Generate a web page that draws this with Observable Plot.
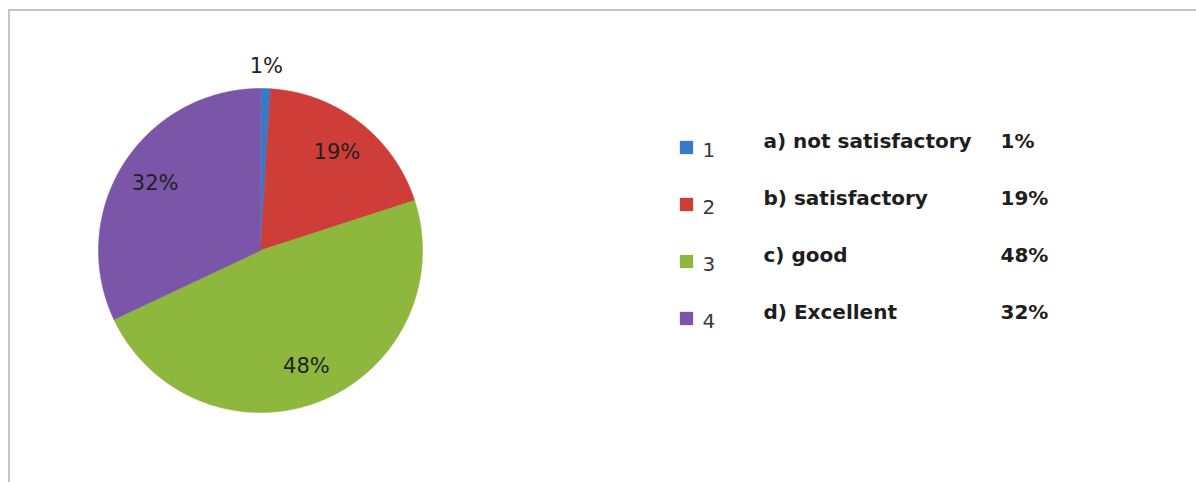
<!DOCTYPE html>
<html>
<head>
<meta charset="utf-8">
<script src="https://cdn.jsdelivr.net/npm/d3@7"></script>
<script src="https://cdn.jsdelivr.net/npm/@observablehq/plot@0.6"></script>
<style>
  html, body { margin: 0; padding: 0; background: #fff; }
  #wrap { position: relative; width: 1196px; height: 482px; overflow: hidden; background: #fff; }
  #frame { position: absolute; left: 8px; top: 9px; width: 1200px; height: 500px;
           border-top: 2px solid #c4c4c4; border-left: 2px solid #c4c4c4; }
  #wrap svg { position: absolute; left: 0; top: 0; }
</style>
</head>
<body>
<div id="wrap"><div id="frame"></div></div>
<script>
// ---- data ----
const keys = ["1", "2", "3", "4"];
const categories = ["a) not satisfactory", "b) satisfactory", "c) good", "d) Excellent"];
const values = [1, 19, 48, 32];
const pctLabels = ["1%", "19%", "48%", "32%"];
const colors = ["#3B79C5", "#CF3D38", "#8DB73D", "#7B55A7"];

// ---- pie geometry (unit circle, via d3.pie) ----
const arcs = d3.pie().sort(null).value(d => d)(values);
const slicePts = [];
arcs.forEach((a, i) => {
  slicePts.push({k: keys[i], x: 0, y: 0});
  const n = Math.max(2, Math.ceil((a.endAngle - a.startAngle) / 0.005));
  for (let j = 0; j <= n; j++) {
    const t = a.startAngle + (a.endAngle - a.startAngle) * j / n;
    slicePts.push({k: keys[i], x: Math.sin(t), y: Math.cos(t)});
  }
});
const labelData = arcs.map((a, i) => {
  const m = (a.startAngle + a.endAngle) / 2;
  const r = values[i] < 5 ? 1.14 : 0.77;
  return {x: r * Math.sin(m), y: r * Math.cos(m), text: pctLabels[i]};
});

const color = {domain: keys, range: colors};

const pie = Plot.plot({
  width: 1196, height: 482,
  marginLeft: 98, marginRight: 774, marginTop: 88, marginBottom: 70,
  x: {domain: [-1, 1], axis: null},
  y: {domain: [-1, 1], axis: null},
  color,
  style: {background: "transparent", overflow: "visible"},
  marks: [
    Plot.line(slicePts, {x: "x", y: "y", z: "k", fill: "k", stroke: "k", strokeWidth: 0.6, curve: "linear-closed"}),
    Plot.text(labelData, {x: "x", y: "y", text: "text", fontSize: 21,
      fontFamily: "DejaVu Sans", fill: "#222"})
  ]
});

const idx = d3.range(keys.length);
const legend = Plot.plot({
  width: 1196, height: 482,
  margin: 0,
  y: {type: "point", domain: keys, range: [146, 318], padding: 0, axis: null},
  color,
  style: {background: "transparent", overflow: "visible"},
  marks: [
    Plot.dot(keys, {y: d => d, fill: d => d, symbol: "square", r: 7.5,
      frameAnchor: "left", dx: 686}),
    Plot.text(keys, {y: d => d, text: d => d, frameAnchor: "left", dx: 702, dy: 3,
      textAnchor: "start", fontSize: 20, fontFamily: "DejaVu Sans", fill: "#3a3a3a"}),
    Plot.text(idx, {y: i => keys[i], text: i => categories[i], frameAnchor: "left", dx: 763, dy: -6,
      textAnchor: "start", fontSize: 20, fontWeight: "bold", fontFamily: "DejaVu Sans", fill: "#1e1e1e"}),
    Plot.text(idx, {y: i => keys[i], text: i => pctLabels[i], frameAnchor: "left", dx: 1000, dy: -6,
      textAnchor: "start", fontSize: 20, fontWeight: "bold", fontFamily: "DejaVu Sans", fill: "#1e1e1e"})
  ]
});

const wrap = document.getElementById("wrap");
wrap.appendChild(pie);
wrap.appendChild(legend);
</script>
</body>
</html>
